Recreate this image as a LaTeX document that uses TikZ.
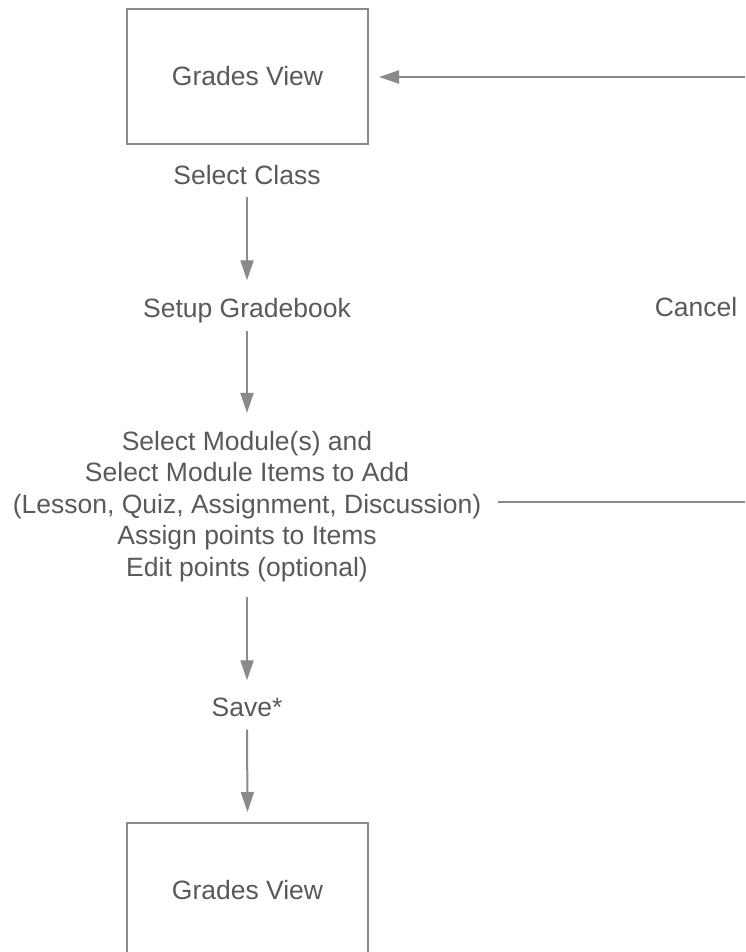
\documentclass[tikz,border=0pt]{standalone}
\usepackage{fontspec}
\setmainfont{Liberation Sans}
\usetikzlibrary{arrows.meta}
\definecolor{txtgray}{HTML}{595959}
\definecolor{lngray}{HTML}{8A8A8E}
\tikzset{
  lbl/.style={inner sep=0pt, text height=19pt, text depth=0pt, text=txtgray,
    font=\fontsize{26.5}{31.5}\selectfont},
  multi/.style={inner sep=0pt, text=txtgray, align=center,
    font=\fontsize{26.5}{31.5}\selectfont},
  gbox/.style={draw=lngray, line width=2pt, minimum width=241pt, minimum height=135pt,
    inner sep=0pt, text=txtgray, font=\fontsize{26.5}{31.5}\selectfont},
  arr/.style={draw=lngray, line width=2pt, -{Triangle[length=20pt,width=13pt]}},
  plainln/.style={draw=lngray, line width=2pt},
}
\begin{document}
\begin{tikzpicture}[x=1pt,y=-1pt]
\useasboundingbox (0,0) rectangle (745,952);
\clip (0,0) rectangle (745,952);
\node[gbox] (gv1) at (247.5,76.5) {Grades View};
\node[lbl] (sel) at (247,174.5) {Select Class};
\node[lbl] (setup) at (247,308) {Setup Gradebook};
\node[lbl] (cancel) at (696,307) {Cancel};
\node[multi] (mod) at (247,506.2) {Select Module(s) and\\Select Module Items to Add\\(Lesson, Quiz, Assignment, Discussion)\\Assign points to Items\\Edit points (optional)};
\node[lbl] (save) at (247,707) {Save*};
\node[gbox] (gv2) at (247.5,890.5) {Grades View};
\coordinate (rin) at (745,77);
\coordinate (rout) at (745,502);
\draw[arr] ([yshift=-13pt]sel.south) -- ([yshift=18pt]setup.north);
\draw[arr] ([yshift=-13pt]setup.south) -- ([yshift=17.7pt]mod.north);
\draw[arr] ([yshift=-15.4pt]mod.south) -- ([yshift=17pt]save.north);
\draw[arr] ([yshift=-13pt]save.south) -- ([yshift=10pt]gv2.north);
\draw[arr] (rin) -- ([xshift=10pt]gv1.east |- rin);
\draw[plainln] ([xshift=17pt]mod.east |- rout) -- (rout);
\end{tikzpicture}
\end{document}
